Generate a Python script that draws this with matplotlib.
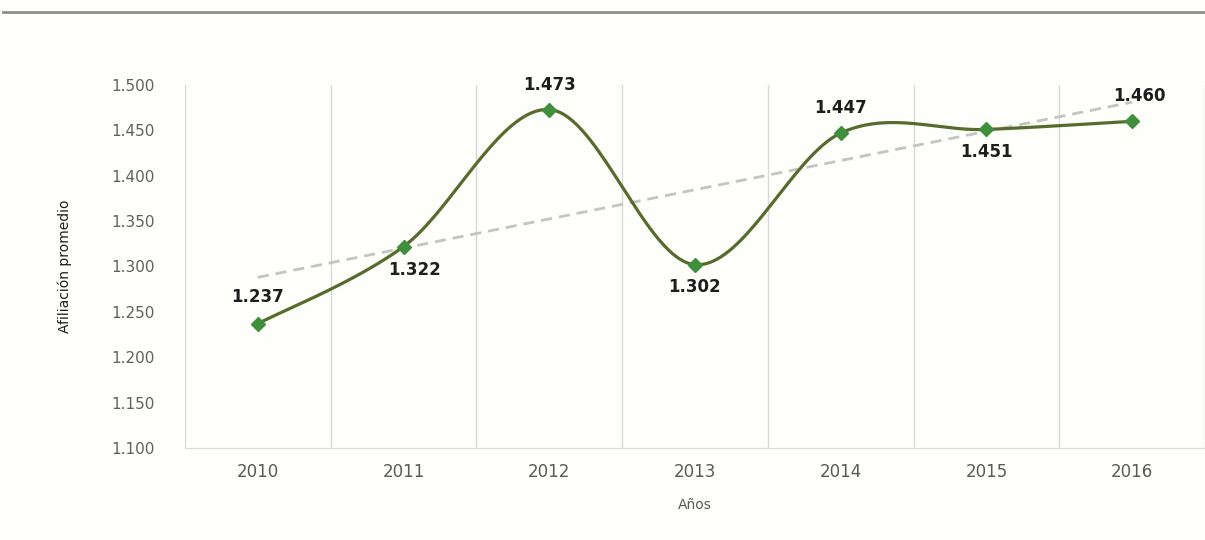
import numpy as np
import matplotlib
matplotlib.use("Agg")
import matplotlib.pyplot as plt

years = ["2010", "2011", "2012", "2013", "2014", "2015", "2016"]
afiliacion = [1.237, 1.322, 1.473, 1.302, 1.447, 1.451, 1.460]
label_text = ["1.237", "1.322", "1.473", "1.302", "1.447", "1.451", "1.460"]
yticks = [1.100, 1.150, 1.200, 1.250, 1.300, 1.350, 1.400, 1.450, 1.500]
ytick_labels = ["1.100", "1.150", "1.200", "1.250", "1.300", "1.350", "1.400", "1.450", "1.500"]

BG = "#fefefa"


def smooth_curve(x, y, n=40):
    # Excel-like smoothed line: Catmull-Rom as cubic Bezier segments
    p = np.column_stack([x, y]).astype(float)
    pts = np.vstack([p[0], p, p[-1]])
    out = []
    for i in range(len(p) - 1):
        p0, p1, p2, p3 = pts[i], pts[i + 1], pts[i + 2], pts[i + 3]
        c1 = p1 + (p2 - p0) / 6
        c2 = p2 - (p3 - p1) / 6
        t = np.linspace(0, 1, n)[:, None]
        seg = ((1 - t) ** 3) * p1 + 3 * ((1 - t) ** 2) * t * c1 + 3 * (1 - t) * t ** 2 * c2 + t ** 3 * p2
        out.append(seg if i == 0 else seg[1:])
    out = np.vstack(out)
    return out[:, 0], out[:, 1]


x = np.arange(len(years))
fig = plt.figure(figsize=(12.05, 5.40), dpi=100)
fig.patch.set_facecolor(BG)

# header rule
fig.add_artist(plt.Line2D([3 / 1205, 1.0], [1 - 12 / 540, 1 - 12 / 540],
                          color="#8c918a", lw=2))

ax = fig.add_axes([185 / 1205, 1 - 448 / 540, 1020 / 1205, 363 / 540])
ax.set_facecolor(BG)

# trend line
k, b = np.polyfit(x, afiliacion, 1)
ax.plot([x[0], x[-1]], [k * x[0] + b, k * x[-1] + b], color="#c4c4c4",
        lw=2, ls=(0, (4, 2.5)), zorder=2)

sx, sy = smooth_curve(x, afiliacion)
ax.plot(sx, sy, color="#566b2c", lw=2.3, zorder=3, solid_capstyle="round")
ax.plot(x, afiliacion, ls="none", marker="D", ms=7.5, color="#3f8f3c",
        markeredgecolor="#3f8f3c", zorder=4)

# data labels: above / below alternating
offsets = [(0, 19), (8, -17), (0, 18), (0, -16), (0, 18), (0, -16), (5, 18)]
for xi, yi, txt, (dx, dy) in zip(x, afiliacion, label_text, offsets):
    ax.annotate(txt, (xi, yi), xytext=(dx, dy), textcoords="offset points",
                ha="center", va="center", fontsize=12, fontweight="bold",
                color="#1e1e1e", zorder=5)

ax.set_xlim(-0.5, len(years) - 0.5)
ax.set_ylim(1.1, 1.5)
ax.set_yticks(yticks)
ax.set_yticklabels(ytick_labels)
ax.set_xticks(x)
ax.set_xticklabels(years)
ax.set_xticks(np.arange(-0.5, len(years), 1.0), minor=True)
ax.grid(which="minor", axis="x", color="#d9d9d9", lw=1)
ax.tick_params(axis="both", which="both", length=0)
ax.tick_params(axis="y", labelsize=11, labelcolor="#606060", pad=22)
ax.tick_params(axis="x", labelsize=12, labelcolor="#595959", pad=11)
for side in ["top", "right"]:
    ax.spines[side].set_visible(False)
ax.spines["left"].set_color("#d9d9d9")
ax.spines["bottom"].set_color("#d9d9d9")

ax.set_xlabel("Años", fontsize=10, color="#595959", labelpad=12)
ax.set_ylabel("Afiliación promedio", fontsize=10, color="#1e1e1e", labelpad=28)

plt.savefig("out.png", dpi=100, facecolor=fig.get_facecolor())
plt.close(fig)
